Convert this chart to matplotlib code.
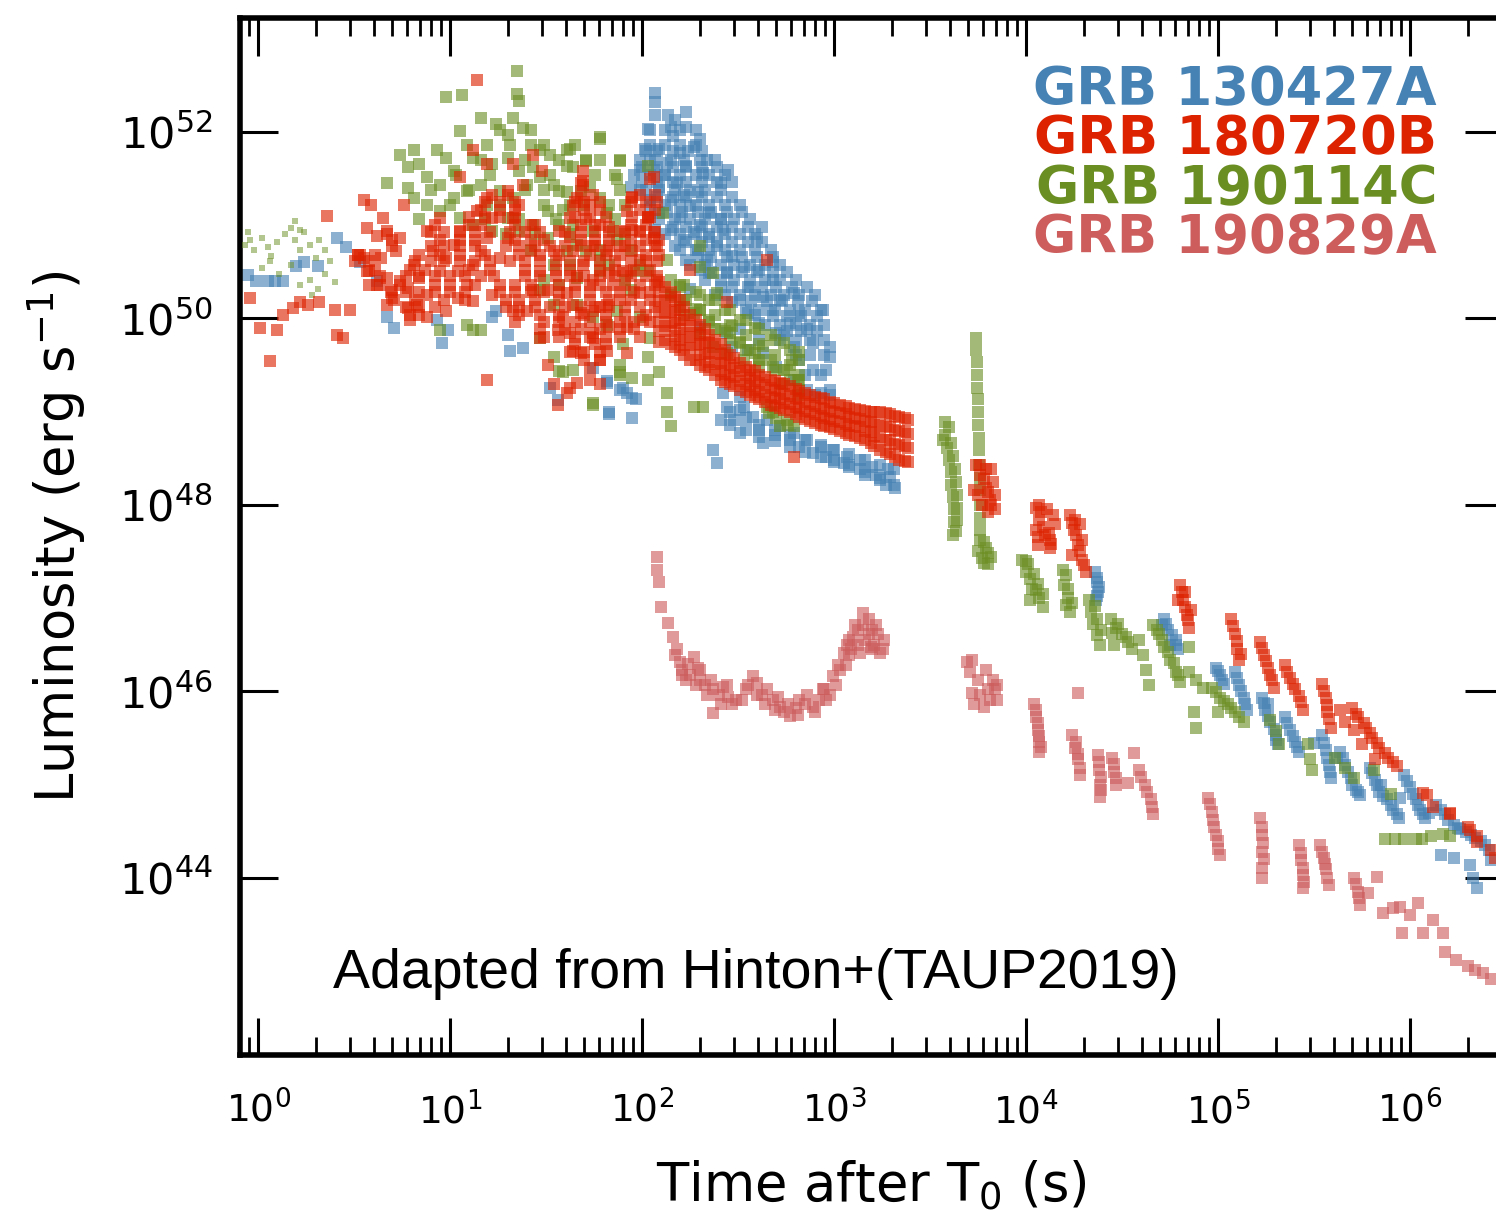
import numpy as np
import matplotlib
matplotlib.use("Agg")
import matplotlib.pyplot as plt
from matplotlib.ticker import LogLocator, NullLocator, NullFormatter, FixedLocator

# ---------------- data: (log10 t [s], log10 L [erg/s]) ----------------
blue_early = [(-0.05,50.46),(-0.01,50.40),(0.05,50.40),(0.09,50.40),(0.13,50.40),(0.20,50.56),
    (0.24,50.60),(0.31,50.56),(0.41,50.86),(0.46,50.76),(0.53,50.60),(0.62,50.40),(0.67,50.01),
    (0.71,49.90),(0.93,49.98),(0.96,49.74),(0.99,49.87),(1.22,50.01),(1.24,50.08),(1.30,49.82),
    (1.31,49.65),(1.38,49.68),(1.52,49.25),(1.56,49.12),(1.745,49.47),(1.82,49.33),(1.83,48.97),
    (1.95,48.93),(1.95,49.15),(1.90,49.25),(1.83,48.99),(1.82,49.31),(1.885,49.23),(1.92,49.20),
    (1.97,49.13)]
blue_cloud = [(2.07,52.42),(2.07,52.32),(2.23,52.21),(2.23,52.05),(2.03,52.03),(2.15,52.05),
    (2.16,51.95),(2.27,51.84),(2.09,51.81),(2.20,51.77),(2.34,51.70),(2.45,51.59),(2.41,51.45),
    (2.32,51.56),(2.23,51.63),(2.13,51.67),(2.06,51.59),(2.09,51.41),(2.18,51.45),(2.29,51.35),
    (1.99,51.38),(1.94,51.41),(2.15,51.27),(2.25,51.20),(2.35,51.13),(2.41,51.06),(2.20,51.09),
    (2.09,51.13),(2.15,50.95),(2.27,50.92),(2.35,50.87),(2.42,50.95),(2.17,50.77),(2.29,50.73),
    (2.39,50.77),(2.47,50.67),(2.60,50.86),(2.53,50.55),(2.61,50.52),(2.68,50.60),(2.68,50.41),
    (2.56,50.34),(2.63,50.23),(2.72,50.20),(2.79,50.27),(2.82,50.06),(2.94,50.09),(2.77,49.95),
    (2.86,49.88),(2.98,49.69),(2.89,49.74),(2.79,49.69),(2.70,49.84),(2.61,49.95),(2.55,50.06),
    (2.47,50.17),(2.41,50.34),(2.35,50.49),(2.44,50.49),(2.34,50.63),(2.23,50.63),(2.30,49.91),
    (2.98,49.59),(2.96,49.45),(2.89,49.45),(2.98,49.23),(2.93,49.20),(2.86,49.23),(2.79,49.34),
    (2.70,49.48),(2.63,49.63),(2.55,49.66),(2.47,49.69),(2.44,49.84),
    (2.016,51.81),(2.04,51.70),(2.12,51.54),(2.04,51.27),(2.22,51.32),(2.30,51.00),(2.07,50.95),
    (2.22,50.84),(2.30,50.52),(2.38,50.25),(2.25,50.31),(2.51,50.20),(2.59,50.04),(2.67,50.09),
    (2.74,49.82),(2.82,49.55),(2.51,49.88),(2.61,49.77),(2.17,52.13),(2.30,51.92),(1.99,51.59)]
# dense core of GRB 130427A: rows of log L with the log t values seen along each row
blue_core_L = [51.86,51.70,51.54,51.38,51.22,51.06,50.90,50.73,50.57,50.41,50.25,50.09,49.93,
    49.77,49.61,49.39,49.18]
blue_core_t = [[2.04,2.12,2.20,2.28],[1.99,2.07,2.15,2.22,2.30,2.38],
    [1.96,2.04,2.12,2.20,2.28,2.35,2.43],[2.02,2.09,2.17,2.25,2.33,2.41],
    [2.04,2.12,2.20,2.28,2.35,2.43,2.51],[2.09,2.17,2.25,2.33,2.41,2.48,2.56],
    [2.12,2.20,2.28,2.35,2.43,2.51,2.59],[2.20,2.28,2.35,2.43,2.51,2.59,2.67],
    [2.25,2.33,2.41,2.48,2.56,2.64,2.72],[2.33,2.41,2.48,2.56,2.64,2.72,2.80],
    [2.43,2.51,2.59,2.67,2.74,2.82,2.90],[2.54,2.61,2.69,2.77,2.85,2.93],
    [2.64,2.72,2.80,2.875,2.95],[2.72,2.80,2.875,2.95],[2.80,2.875,2.95],[2.85,2.93],[2.90,2.98]]
blue_core2_L = [52.18,52.02,51.79,51.62,51.46,51.30,51.14,50.98,50.82,50.66,50.50,50.34,50.18,
    50.02,49.86]
blue_core2_t = [[2.07,2.135],[2.04,2.12,2.20,2.28],[2.02,2.08,2.16,2.24,2.31],
    [2.00,2.08,2.16,2.23,2.31,2.39],[2.00,2.08,2.16,2.23,2.31,2.39,2.47],
    [2.08,2.16,2.23,2.31,2.39,2.47],[2.13,2.21,2.29,2.36,2.44,2.52],
    [2.16,2.23,2.31,2.39,2.47,2.55,2.625],[2.23,2.31,2.39,2.47,2.55,2.625],
    [2.29,2.36,2.44,2.52,2.60,2.68],[2.36,2.44,2.52,2.60,2.68,2.755],
    [2.47,2.55,2.625,2.70,2.78,2.86],[2.57,2.65,2.73,2.81,2.885],[2.68,2.755,2.83,2.91],
    [2.755,2.83,2.91]]
blue_band = [(2.53,49.05),(2.58,48.94),(2.65,48.91),(2.72,48.84),(2.79,48.77),(2.86,48.70),
    (2.93,48.62),(2.995,48.59),(3.07,48.51),(3.135,48.48),(3.20,48.41),(3.28,48.38),(3.29,48.30),
    (2.82,48.62),(2.89,48.56),(2.96,48.51),(3.05,48.45),(3.135,48.38),(3.22,48.32),(3.27,48.21),
    (2.37,48.59),(2.39,48.45),(2.51,48.77),(2.63,48.66),(2.41,48.91),(2.44,49.05),(2.42,49.20),
    (2.51,49.16),(2.51,49.02),(2.48,48.91),(2.61,48.80),(2.69,48.75),(2.77,48.70),(3.08,48.43),
    (3.16,48.32),(3.24,48.27),(3.32,48.18),(3.00,48.48)]
blue_band2_t = [2.46,2.54,2.61,2.69,2.77,2.85,2.93,3.00,3.08,3.16,3.24,3.31]
blue_band2_L = [[49.00,48.86],[48.93,48.80],[48.86,48.73],[48.80,48.68],[48.75,48.62],
    [48.70,48.57],[48.64,48.51],[48.59,48.46],[48.54,48.41],[48.48,48.35],[48.43,48.29],
    [48.38,48.21]]
blue_late = [(4.36,47.28),(4.37,47.17),(4.375,47.07),(4.365,46.98),(4.71,46.71),(4.74,46.66),
    (4.78,46.55),(4.79,46.45),(4.75,46.50),(4.72,46.77),(4.99,46.25),(5.01,46.18),(5.03,46.08),
    (5.09,46.21),(5.11,46.07),(5.135,45.93),(5.15,45.80),(5.23,45.93),(5.245,45.80),(5.27,45.67),
    (5.30,45.53),(5.31,45.43),(5.26,45.86),(5.35,45.72),(5.375,45.59),(5.40,45.46),(5.42,45.35),
    (5.54,45.53),(5.56,45.37),(5.58,45.21),(5.59,45.07),(5.635,45.35),(5.66,45.21),(5.69,45.07),
    (5.72,44.94),(5.74,44.89),(5.79,45.18),(5.82,45.05),(5.84,44.92),(5.88,44.84),(5.91,44.73),
    (5.94,44.64),(5.97,45.10),(6.00,44.97),(6.03,44.84),(6.05,44.73),(6.08,44.64),(6.135,44.78),
    (6.18,44.68),(6.23,44.57),(6.29,44.49),(6.34,44.43),(6.39,44.35),(6.16,44.24),(6.23,44.21),
    (6.31,44.14),(6.33,44.00),(6.35,43.89),(6.41,44.30),(6.42,44.19),(5.85,44.99),(5.95,44.86),
    (6.10,44.70),(6.26,44.52),(6.37,44.40),(5.62,45.28),(5.50,45.45),
    (4.37,47.22),(4.38,47.12),(4.37,47.02),(4.73,46.72),(4.76,46.60),(4.78,46.50),(5.00,46.22),
    (5.02,46.12),(5.10,46.14),(5.12,46.00),(5.14,45.86),(5.24,45.87),(5.26,45.74),(5.29,45.60),
    (5.30,45.48),(5.36,45.66),(5.39,45.52),(5.41,45.40),(5.55,45.45),(5.57,45.29),(5.585,45.14),
    (5.65,45.28),(5.675,45.14),(5.70,45.00),(5.73,44.92),(5.80,45.12),(5.83,44.99),(5.86,44.88),
    (5.90,44.78),(5.93,44.68),(5.985,45.04),(6.015,44.90),(6.04,44.78),(6.065,44.68),(6.16,44.73),
    (6.20,44.62),(6.25,44.53),(6.32,44.46)]

red_early = [(-0.04,50.22),(0.01,49.90),(0.06,49.54),(0.10,49.87),(0.13,50.03),(0.18,50.11),
    (0.22,50.17),(0.26,50.14),(0.32,50.17),(0.36,51.10),(0.40,50.09),(0.41,49.82),(0.44,49.79),
    (0.48,50.09),(0.52,50.68),(0.55,51.27),(0.55,50.65),(0.57,50.97),(0.58,50.51),(0.59,51.22),
    (0.62,50.88),(0.65,51.08),(0.67,50.90),(0.70,50.30),(0.79,49.98),(1.14,52.56),(1.19,49.34),
    (1.54,49.29),(1.56,49.07)]
red_cloud = [(0.52,50.68),(0.57,50.51),(0.62,50.36),(0.67,50.43),(0.70,50.22),(0.74,50.40),
    (0.78,50.33),(0.81,50.57),(0.84,50.43),(0.88,50.25),(0.83,50.14),(0.72,50.72),(0.67,50.94),
    (0.74,50.86),(0.76,51.22),(0.88,50.94),(0.91,50.72),(0.95,50.51),(0.98,50.65),(1.02,50.79),
    (1.05,50.94),(1.04,50.51),(1.09,50.36),(1.12,50.57),(1.16,50.72),(1.10,51.00),(1.14,51.15),
    (1.19,51.29),(1.22,51.08),(1.19,50.86),(1.26,50.65),(1.30,50.86),(1.33,51.08),(1.36,51.22),
    (1.30,51.37),(1.38,51.43),(1.42,51.00),(1.42,50.72),(1.47,50.51),(1.51,50.30),(1.43,50.30),
    (1.40,50.08),(1.54,50.72),(1.57,50.94),(1.625,51.08),(1.66,51.29),(1.69,51.43),(1.73,51.22),
    (1.78,51.00),(1.64,50.72),(1.69,50.57),(1.73,50.36),(1.64,50.14),(1.59,50.01),(1.745,50.08),
    (1.82,50.14),(1.85,50.36),(1.90,50.51),(1.95,50.72),(1.99,50.94),(2.03,51.08),(2.06,50.86),
    (1.82,50.72),(1.885,50.94),(1.92,51.15),(1.745,49.79),(1.82,49.65),(1.64,49.65),(1.56,49.87),
    (1.47,49.79),(1.51,49.50),(1.73,49.47),(1.78,49.29),(1.625,49.25),(1.22,50.25),(1.33,50.08),
    (0.98,50.08),(1.04,50.22),(1.12,50.19),(0.88,50.01),(0.78,50.11),(0.67,50.14),(0.58,50.36),
    (0.64,50.65),(0.95,51.08),(1.05,51.51),(1.19,51.65),(1.33,51.65),(1.12,51.80),(1.48,51.58),
    (1.69,51.58),(1.69,51.47),(2.06,51.51),(1.95,51.29),(1.43,51.75),
    (1.68,51.45),(1.64,51.20),(1.71,51.06),(1.625,50.87),(1.745,50.77),(1.83,50.98),(1.885,50.77),
    (1.95,50.95),(2.03,51.09),(2.06,50.92),(2.08,50.77),(1.99,50.63),(1.92,50.49),(1.83,50.49),
    (1.745,50.41),(1.66,50.45),(1.61,50.27),(1.68,50.06),(1.78,50.12),(1.885,50.20),(1.99,50.27),
    (2.08,50.41),(2.005,49.98),(1.92,49.91),(1.83,49.91),(1.745,49.84),(1.625,49.84),(1.68,49.63),
    (1.78,49.55),(1.92,49.63),(1.61,49.20),(1.66,49.31),(1.73,49.34),(2.04,51.49),(1.95,51.30),
    (2.04,51.09),(2.25,50.52),(2.44,50.17),(2.65,50.63),(2.79,48.51)]
# dense core of GRB 180720B: rows of log L with the log t values seen along each row
red_core_L = [51.32,51.16,51.00,50.84,50.68,50.52,50.36,50.20,50.04,49.88,49.72,49.55]
red_core_t = [[1.22,1.30,1.68,1.745,1.99,2.07],[1.16,1.26,1.34,1.70,1.78,1.99,2.07],
    [0.92,1.16,1.34,1.44,1.68,1.755,1.94,2.02],
    [0.70,0.95,1.05,1.13,1.34,1.42,1.49,1.68,1.755,1.83,1.94,2.02,2.09],
    [0.53,0.61,0.84,0.95,1.05,1.18,1.36,1.47,1.57,1.73,1.81,1.885,2.02,2.09],
    [0.61,0.79,0.87,1.10,1.21,1.39,1.55,1.625,1.78,1.86,1.96,2.04],
    [0.635,0.74,0.92,1.00,1.13,1.26,1.34,1.42,1.57,1.65,1.78,1.91,1.99,2.07],
    [0.71,0.82,0.97,1.08,1.29,1.36,1.44,1.57,1.73,1.83,1.94,2.04],
    [0.79,0.84,1.36,1.47,1.57,1.70,1.81,1.91,2.02],[1.47,1.60,1.68,1.78,1.885,1.96],
    [1.65,1.755,1.81],[1.70,1.78]]
red_core2_L = [51.25,51.09,50.93,50.77,50.61,50.45,50.28,50.12,49.96,49.80,49.64]
red_core2_t = [[1.18,1.26,1.34,1.65,1.70,1.78,1.94,2.02,2.08],
    [1.10,1.18,1.26,1.34,1.65,1.73,1.81,1.95,2.03],
    [0.90,0.97,1.05,1.13,1.21,1.31,1.39,1.47,1.60,1.68,1.755,1.83,1.91,1.99,2.07],
    [0.70,0.90,0.97,1.05,1.13,1.29,1.36,1.44,1.52,1.60,1.68,1.755,1.83,1.91,1.99,2.07],
    [0.505,0.58,0.82,0.90,0.97,1.05,1.13,1.21,1.31,1.39,1.47,1.55,1.625,1.70,1.78,1.86,1.94,
     2.02,2.08],
    [0.635,0.77,0.84,0.92,1.00,1.08,1.16,1.23,1.39,1.47,1.55,1.625,1.70,1.78,1.86,1.94,2.02,2.08],
    [0.69,0.77,0.84,0.92,1.00,1.08,1.26,1.34,1.42,1.49,1.57,1.65,1.73,1.81,1.885,1.96,2.04],
    [0.77,0.84,0.92,1.29,1.36,1.44,1.52,1.60,1.68,1.755,1.83,1.91,1.99,2.07],
    [1.34,1.49,1.57,1.65,1.73,1.81,1.885,1.96,2.04],[1.49,1.57,1.65,1.73,1.81,1.885,1.99],
    [1.625,1.70,1.78]]
red_band_t = [2.09,2.15,2.20,2.25,2.30,2.35,2.41,2.46,2.51,2.56,2.61,2.67,2.72,2.77,2.82,2.875,
    2.93,2.98,3.03,3.08,3.135,3.19,3.24,3.29,3.34,3.385]
red_band_L = [[50.39,50.28,50.18,50.07,49.96,49.86,49.75],[50.28,50.18,50.07,49.96,49.86,49.72],
    [50.20,50.09,49.98,49.88,49.77,49.66],[50.04,49.92,49.80,49.68,49.55],
    [49.93,49.82,49.72,49.61,49.50],[49.82,49.73,49.63,49.53,49.45],[49.72,49.62,49.52,49.43,49.34],
    [49.61,49.50,49.39,49.29],[49.52,49.43,49.33,49.23],[49.45,49.36,49.27,49.18],
    [49.39,49.31,49.21,49.13],[49.34,49.25,49.16,49.07],[49.31,49.22,49.13,49.04],
    [49.27,49.17,49.08,48.99],[49.22,49.13,49.04,48.94],[49.18,49.08,49.00,48.90],
    [49.14,49.04,48.95,48.86],[49.10,49.01,48.92,48.83],[49.07,48.98,48.89,48.79],
    [49.04,48.94,48.85,48.75],[49.02,48.92,48.83,48.72],[49.00,48.89,48.78,48.66],
    [48.99,48.86,48.73,48.59],[48.97,48.83,48.69,48.54],[48.94,48.79,48.64,48.48],
    [48.91,48.76,48.61,48.46]]
red_band2_t = [2.12,2.17,2.22,2.28,2.33,2.38,2.43,2.48,2.54,2.59,2.64,2.69,2.74,2.80,2.85,2.90,
    2.95,3.00,3.06,3.11,3.16,3.21,3.27,3.32,3.37]
red_band2_L = [[50.34,50.20,50.06,49.92,49.77],[50.23,50.09,49.95,49.81,49.69],
    [50.12,49.98,49.84,49.71,49.61],[49.98,49.84,49.71,49.55],[49.88,49.75,49.62,49.48],
    [49.77,49.64,49.51,49.39],[49.66,49.53,49.40,49.32],[49.57,49.47,49.37,49.27],
    [49.48,49.39,49.30,49.21],[49.43,49.33,49.23,49.16],[49.37,49.28,49.18,49.10],
    [49.33,49.23,49.14,49.06],[49.29,49.19,49.09,49.02],[49.24,49.15,49.05,48.97],
    [49.20,49.10,49.01,48.92],[49.16,49.06,48.97,48.88],[49.13,49.03,48.93,48.85],
    [49.09,49.00,48.90,48.81],[49.06,48.97,48.87,48.77],[49.03,48.93,48.84,48.74],
    [49.01,48.90,48.79,48.70],[49.00,48.87,48.74,48.63],[48.98,48.84,48.70,48.57],
    [48.95,48.80,48.65,48.51],[48.93,48.78,48.63,48.47]]
red_late = [(3.74,48.43),(3.76,48.32),(3.79,48.18),(3.81,48.05),(3.84,47.95),(3.77,48.00),
    (3.75,48.11),(3.82,48.38),(4.05,47.97),(4.07,47.84),(4.10,47.68),(4.125,47.54),(4.15,47.79),
    (4.11,47.95),(4.06,47.57),(4.23,47.89),(4.25,47.73),(4.27,47.57),(4.29,47.41),(4.31,47.28),
    (4.28,47.79),(4.80,47.14),(4.82,46.98),(4.84,46.82),(4.85,46.68),(4.83,47.07),(5.07,46.77),
    (5.09,46.61),(5.10,46.45),(5.11,46.34),(5.22,46.53),(5.24,46.39),(5.26,46.25),(5.28,46.12),
    (5.29,46.04),(5.35,46.28),(5.375,46.14),(5.40,46.02),(5.43,45.89),(5.44,45.80),(5.54,46.08),
    (5.56,45.93),(5.57,45.78),(5.59,45.61),(5.635,45.80),(5.66,45.67),(5.70,45.82),(5.73,45.72),
    (5.77,45.61),(5.80,45.50),(5.84,45.39),(5.885,45.29),(5.93,45.20),(5.75,45.43),(5.82,45.27),
    (5.71,45.59),(6.07,44.91),(6.09,44.89),(6.12,44.76),(6.21,44.70),(6.21,44.68),(6.30,44.55),
    (6.31,44.51),(6.35,44.45),(6.35,44.38),(6.42,44.30),(6.44,44.21),
    (3.79,48.38),(3.73,48.16),(3.84,48.11),(3.80,47.92),(4.07,48.00),(4.14,47.89),(4.05,47.73),
    (4.125,47.62),(4.255,47.84),(4.29,47.62),(4.24,47.46),(4.79,46.98),(4.86,46.87),
    (3.76,48.43),(3.78,48.28),(3.80,48.14),(3.82,48.00),(3.83,48.24),(4.08,47.92),(4.09,47.76),
    (4.12,47.70),(4.13,47.58),(4.06,47.65),(4.26,47.68),(4.28,47.50),(4.30,47.35),(4.24,47.80),
    (4.81,47.06),(4.83,46.90),(4.845,46.76),(5.08,46.70),(5.10,46.54),(5.12,46.40),(5.23,46.46),
    (5.25,46.32),(5.27,46.18),(5.36,46.21),(5.39,46.08),(5.42,45.95),(5.55,46.00),(5.565,45.85),
    (5.58,45.70),(5.72,45.76),(5.76,45.66),(5.79,45.55),(5.83,45.45),(5.87,45.34),(5.91,45.24)]

green_early = [(-0.07,50.79),(-0.04,50.84),(-0.02,50.73),(0.02,50.86),(0.05,50.76),(0.07,50.67),
    (0.10,50.82),(0.14,50.90),(0.17,50.97),(0.19,50.84),(0.22,50.73),(0.24,50.92),(0.27,50.79),
    (0.30,50.65),(0.32,50.84),(0.35,50.73),(0.375,50.61),(0.02,50.54),(0.06,50.61),(0.11,50.47),
    (0.17,50.57),(0.22,50.36),(0.27,50.41),(0.31,50.31),(0.35,50.47),(0.40,50.39),(0.28,50.25),
    (-0.05,50.93),(0.22,50.95),(0.19,51.04)]
green_cloud = [(0.67,51.45),(0.74,51.75),(0.81,51.80),(0.78,51.62),(0.84,51.65),(0.78,51.40),
    (0.88,51.51),(0.93,51.80),(0.98,51.72),(0.95,51.43),(1.02,51.58),(0.98,52.37),(1.06,52.39),
    (1.05,52.01),(1.09,51.86),(1.16,52.15),(1.24,52.08),(1.12,51.72),(1.19,51.86),(1.30,51.97),
    (1.35,52.65),(1.35,52.40),(1.36,52.33),(1.33,52.15),(1.38,52.04),(1.42,51.86),(1.47,51.80),
    (1.52,51.75),(1.43,51.62),(1.36,51.58),(1.30,51.72),(1.22,51.65),(1.16,51.43),(1.09,51.37),
    (1.02,51.29),(0.88,51.22),(0.81,51.29),(0.95,51.15),(1.05,51.08),(1.12,51.00),(1.19,51.22),
    (1.26,51.37),(1.33,51.29),(1.40,51.43),(1.47,51.51),(1.54,51.43),(1.61,51.80),(1.64,51.62),
    (1.71,51.69),(1.78,51.94),(1.885,51.69),(1.57,51.37),(1.625,51.22),(1.68,51.37),(1.51,51.15),
    (1.43,51.00),(1.36,50.94),(1.30,51.08),(1.22,50.94),(1.51,50.86),(1.57,51.00),(1.64,51.00),
    (1.61,50.72),(1.54,50.57),(1.66,50.79),(1.78,51.29),(1.83,51.22),(1.85,50.94),(1.745,50.94),
    (1.71,50.72),(1.78,50.51),(1.66,50.43),(1.57,50.36),(1.47,50.30),(1.54,50.14),(1.66,50.14),
    (1.745,50.01),(1.82,49.93),(1.87,50.08),(1.94,50.30),(1.97,50.51),(2.03,50.51),(1.99,50.01),
    (2.04,49.79),(2.03,49.58),(1.90,49.72),(1.885,49.50),(1.95,49.36),(1.09,49.93),(1.12,49.87),
    (1.16,49.87),(0.95,49.87),(1.745,49.07),(1.885,49.39),(1.57,49.44),(1.54,49.58),(1.47,49.79),
    (1.78,51.92),(1.625,51.81),(1.61,51.63),(1.71,51.70),(1.73,51.41),(1.885,51.70),(1.87,51.49),
    (2.03,51.63),(1.61,51.35),(1.59,51.16),(1.82,51.13),(1.87,50.84),(1.78,50.63),(2.11,51.13),
    (2.13,50.63),(2.30,50.77),(2.37,50.49),(2.39,50.27),(2.30,50.55),(2.20,50.34),(2.23,50.20),
    (2.30,50.09),(2.35,49.98),(2.41,49.88),(2.46,49.84),(2.51,49.74),(2.56,49.66),(2.61,49.55),
    (2.68,49.48),(2.755,49.45),(2.30,49.84),(2.37,49.69),(2.44,49.63),(2.53,49.55),(2.61,49.48),
    (2.27,50.06),(2.20,50.12),(2.15,50.27),(2.68,48.99),(2.755,48.91),(2.79,48.84),(2.72,48.84),
    (2.65,49.05),(2.09,49.42),(2.03,49.34),(2.13,49.20),(2.27,49.05),(2.32,49.05),(2.13,48.99),
    (2.15,48.84),(1.745,49.09),(1.885,49.42),(1.64,49.45),(1.59,49.42),(2.81,49.34),(2.81,49.18),
    (2.73,49.29)]
# denser parts of GRB 190114C prompt phase: rows of log L with log t values along them
green_core_L = [52.02,51.86,51.70,51.54,51.38,51.22,51.06,50.90,50.73,50.57,50.41]
green_core_t = [[1.26,1.42],[1.31,1.49,1.65],[1.16,1.39,1.57,1.78],[1.03,1.21,1.52,1.755,1.86],
    [0.90,1.10,1.39,1.49,1.885],[1.00,1.26,1.49,1.70,1.91],[0.84,1.18,1.36,1.55,1.86],
    [1.29,1.44,1.625,1.91],[1.42,1.78,1.94],[1.625,1.83,1.99],[1.49,1.91]]
# band of GRB 190114C just above the GRB 180720B decay
green_band_t = [2.15,2.22,2.30,2.38,2.46,2.54,2.61,2.69,2.77,2.82]
green_band_L = [[50.41,50.25],[50.36,50.20,50.04],[50.25,50.09],[50.20,50.04,49.88],
    [50.09,49.93,49.77],[49.98,49.82,49.66],[49.88,49.72,49.55],[49.77,49.61,49.45],
    [49.66,49.50,49.34],[49.55,49.39,49.23]]
green_band2 = [(2.20,50.36),(2.28,50.28),(2.28,50.10),(2.35,50.20),(2.35,49.96),(2.43,50.09),
    (2.43,49.86),(2.51,49.98),(2.51,49.75),(2.59,49.90),(2.59,49.63),(2.67,49.82),(2.67,49.55),
    (2.74,49.74),(2.74,49.45),(2.82,49.64),(2.82,49.34),(2.47,49.92),(2.63,49.70),(2.78,49.55),
    (2.70,48.93),(2.76,48.86),(2.66,48.98)]
green_late = [(3.58,48.89),(3.58,48.75),(3.59,48.61),(3.60,48.48),(3.61,48.35),(3.61,48.21),
    (3.62,48.08),(3.625,47.95),(3.625,47.82),(3.62,47.68),(3.57,48.70),
    (3.74,49.79),(3.74,49.66),(3.745,49.53),(3.745,49.39),(3.745,49.25),(3.75,49.13),(3.75,48.99),
    (3.75,48.86),(3.755,48.72),(3.755,48.59),(3.755,48.43),(3.76,48.29),(3.76,48.16),(3.76,48.00),
    (3.76,47.86),(3.76,47.73),(3.76,47.62),(3.79,47.54),(3.77,47.43),(3.80,47.36),(3.75,47.50),
    (3.98,47.41),(4.00,47.28),(4.02,47.20),(4.05,47.09),(4.07,47.00),(4.09,46.90),(4.02,46.98),
    (4.01,47.36),(4.19,47.30),(4.20,47.14),(4.22,47.00),(4.23,46.85),(4.21,46.93),(4.33,46.98),
    (4.34,46.85),(4.35,46.72),(4.37,46.60),(4.385,46.50),(4.44,46.77),(4.47,46.68),(4.50,46.61),
    (4.53,46.53),(4.55,46.45),(4.46,46.50),(4.59,46.55),(4.61,46.39),(4.625,46.23),(4.64,46.07),
    (4.66,46.71),(4.69,46.61),(4.72,46.47),(4.75,46.34),(4.78,46.21),(4.80,46.10),(4.85,46.21),
    (4.885,46.12),(4.92,46.04),(4.875,45.78),(4.885,45.61),(4.85,46.47),(4.97,46.04),(5.01,45.93),
    (5.05,45.86),(5.09,45.78),(5.135,45.67),(5.00,45.78),(5.27,45.69),(5.30,45.57),(5.32,45.43),
    (5.47,45.43),(5.48,45.27),(5.49,45.16),(5.61,45.29),(5.66,45.18),(5.71,45.07),(5.81,45.16),
    (5.90,44.90),(5.87,44.42),(5.92,44.42),(5.97,44.42),(6.03,44.42),(6.06,44.42),(6.11,44.45),
    (6.17,44.47),(6.21,44.45),
    (3.60,48.83),(3.61,48.66),(3.62,48.52),(3.63,48.38),(3.635,48.24),(3.64,48.10),(3.64,47.97),
    (3.64,47.84),(3.635,47.72),(3.78,47.60),(3.80,47.48),(3.78,47.38),(3.82,47.44),(4.00,47.40),
    (4.04,47.26),(4.06,47.15),(4.09,47.04),(4.03,47.10),(4.21,47.25),(4.22,47.10),(4.24,46.95),
    (4.36,46.92),(4.37,46.78),(4.39,46.66),(4.48,46.72),(4.52,46.58),(4.45,46.62),(4.68,46.66),
    (4.71,46.55),(4.74,46.42),(4.77,46.30),(4.79,46.17),(4.99,45.99),(5.03,45.90),(5.07,45.82),
    (5.11,45.72)]

pink_dip = [(2.08,47.44),(2.08,47.30),(2.09,47.17),(2.10,46.90),(2.135,46.73),(2.16,46.58),
    (2.18,46.45),(2.20,46.31),(2.21,46.23),(2.23,46.12),(2.25,46.18),(2.27,46.37),(2.29,46.25),
    (2.30,46.12),(2.33,46.07),(2.37,46.02),(2.37,45.77),(2.40,45.96),(2.42,46.05),(2.45,45.94),
    (2.49,45.91),(2.54,46.02),(2.58,46.16),(2.60,46.09),(2.625,45.96),(2.65,46.02),(2.68,45.91),
    (2.72,45.83),(2.74,45.78),(2.77,45.73),(2.80,45.82),(2.82,45.91),(2.85,45.86),(2.89,45.83),
    (2.92,45.91),(2.94,46.02),(2.96,45.91),(2.995,46.16),(3.02,46.28),(3.03,46.23),(3.05,46.41),
    (3.07,46.50),(3.08,46.39),(3.10,46.58),(3.11,46.71),(3.125,46.50),(3.135,46.41),(3.15,46.84),
    (3.18,46.77),(3.19,46.48),(3.20,46.66),(3.21,46.50),(3.23,46.61),(3.24,46.41),(3.26,46.55),
    (2.17,46.39),(2.21,46.18),(2.24,46.29),(2.28,46.07),(2.30,46.23),(2.34,45.96),(2.36,46.12),
    (2.41,45.86),(2.44,46.07),(2.47,45.86),(2.52,45.91),(2.55,46.07),(2.60,45.96),(2.64,45.86),
    (2.69,45.80),(2.71,45.94),(2.76,45.86),(2.81,45.75),(2.86,45.96),(2.90,45.78),(2.95,46.02),
    (2.98,45.96),(3.01,46.07),(3.06,46.28),(3.09,46.45),(3.125,46.66),(3.16,46.55),(3.18,46.61),
    (3.20,46.45),(3.22,46.71),(3.255,46.45),(3.15,46.71),(3.08,46.55)]
pink_late = [(3.69,46.31),(3.71,46.21),(3.72,45.98),(3.75,46.12),(3.76,45.96),(3.78,45.83),
    (3.80,46.02),(3.83,46.12),(3.84,46.02),(3.85,45.91),(3.72,46.34),(3.79,46.23),(3.81,45.91),
    (3.73,45.86),(3.85,46.07),(4.04,45.86),(4.05,45.72),(4.06,45.59),
    (4.07,45.46),(4.07,45.35),(4.27,45.98),(4.24,45.53),(4.255,45.39),(4.27,45.27),(4.28,45.10),
    (4.375,45.32),(4.38,45.16),(4.385,45.00),(4.385,44.87),(4.45,45.29),(4.46,45.14),(4.47,45.00),
    (4.53,45.02),(4.56,45.34),(4.59,45.16),(4.62,45.00),(4.65,44.84),(4.66,44.68),(4.95,44.86),
    (4.97,44.71),(4.98,44.54),(5.00,44.39),(5.01,44.24),(5.22,44.64),(5.23,44.46),(5.23,44.28),
    (5.23,44.11),(5.23,44.00),(5.42,44.35),(5.43,44.19),(5.44,44.03),(5.44,43.89),(5.53,44.35),
    (5.55,44.21),(5.56,44.09),(5.58,43.92),(5.71,44.00),(5.73,43.85),(5.74,43.71),(5.78,43.84),
    (5.83,44.01),(5.86,43.62),(5.91,43.68),(5.95,43.69),(5.96,43.41),(6.00,43.60),(6.04,43.73),
    (6.07,43.41),(6.12,43.55),(6.17,43.41),(6.18,43.20),(6.24,43.12),(6.30,43.05),(6.34,43.01),
    (6.38,42.98),(6.42,42.91),
    (4.05,45.80),(4.06,45.66),(4.07,45.52),(4.08,45.40),(4.26,45.46),(4.27,45.33),(4.28,45.18),
    (4.38,45.24),(4.39,45.08),(4.39,44.94),(4.46,45.22),(4.47,45.07),(4.60,45.08),(4.63,44.92),
    (4.655,44.76),(4.96,44.79),(4.975,44.62),(4.99,44.46),(5.00,44.31),(5.23,44.55),(5.235,44.37),
    (5.24,44.20),(5.43,44.27),(5.44,44.11),(5.45,43.96),(5.54,44.28),(5.555,44.15),(5.57,44.00),
    (5.72,43.93),(5.735,43.78)]

names = ["GRB 130427A", "GRB 180720B", "GRB 190114C", "GRB 190829A"]
colors = ["#4682B4", "#DD2200", "#6B8E23", "#CD5C5C"]

x_ticks_exp = [0, 1, 2, 3, 4, 5, 6]
y_ticks_exp = [44, 46, 48, 50, 52]


def rows(Ls, ts):
    return [(t, L) for L, tl in zip(Ls, ts) for t in tl]


def cols(ts, Ls):
    return [(t, L) for t, ll in zip(ts, Ls) for L in ll]


def to_xy(*segs):
    a = np.array([p for s in segs for p in s], dtype=float)
    return 10.0 ** a[:, 0], 10.0 ** a[:, 1]


# ---------------- figure ----------------
W, H = 1496, 1217
fig = plt.figure(figsize=(W / 100, H / 100), dpi=100)
ax = fig.add_axes([240 / W, (H - 1055) / H, (1502 - 240) / W, (1055 - 18) / H])
ax.set_xscale("log")
ax.set_yscale("log")

mk = dict(marker="s", s=76, linewidths=0, alpha=0.62)

bx, by = to_xy(blue_early, blue_cloud, rows(blue_core_L, blue_core_t),
               rows(blue_core2_L, blue_core2_t), blue_band, cols(blue_band2_t, blue_band2_L),
               blue_late)
ax.scatter(bx, by, color=colors[0], zorder=2, **mk)

gx, gy = to_xy(green_early)
ax.scatter(gx, gy, color=colors[2], marker="s", s=18, linewidths=0, alpha=0.5, zorder=3)
gx, gy = to_xy(green_cloud, rows(green_core_L, green_core_t), cols(green_band_t, green_band_L),
               green_band2, green_late)
ax.scatter(gx, gy, color=colors[2], zorder=3, **mk)

rx, ry = to_xy(red_early, red_cloud, rows(red_core_L, red_core_t),
               rows(red_core2_L, red_core2_t), cols(red_band_t, red_band_L),
               cols(red_band2_t, red_band2_L), red_late)
ax.scatter(rx, ry, color=colors[1], zorder=4, **mk)

px, py = to_xy(pink_dip, pink_late)
ax.scatter(px, py, color=colors[3], zorder=5, **mk)

ax.set_xlim(10 ** -0.094, 10 ** 6.479)
ax.set_ylim(10 ** 42.10, 10 ** 53.22)

ax.xaxis.set_major_locator(FixedLocator([10.0 ** e for e in x_ticks_exp]))
ax.xaxis.set_minor_locator(LogLocator(base=10, subs=np.arange(2, 10), numticks=30))
ax.xaxis.set_minor_formatter(NullFormatter())
ax.yaxis.set_major_locator(FixedLocator([10.0 ** e for e in y_ticks_exp]))
ax.yaxis.set_minor_locator(NullLocator())

for sp in ax.spines.values():
    sp.set_linewidth(4)
ax.tick_params(which="major", direction="in", length=27, width=2.2, top=True, right=True,
               labelsize=27, pad=26)
ax.tick_params(which="minor", direction="in", length=13, width=2.0, top=True, right=True)
ax.tick_params(axis="y", labelsize=31, pad=20)

ax.set_xlabel(r"Time after T$_0$ (s)", fontsize=38, labelpad=20)
ax.set_ylabel(r"Luminosity (erg s$^{\mathregular{-1}}$)", fontsize=38, labelpad=22)

for i, (nm, c) in enumerate(zip(names, colors)):
    yb = [105, 154, 204, 253][i]
    fig.text(1437 / W, 1 - yb / H, nm, color=c, fontsize=38, fontweight="bold",
             ha="right", va="baseline", family="DejaVu Sans")

fig.text(333 / W, 1 - 988 / H, "Adapted from Hinton+(TAUP2019)", fontsize=40,
         family="Liberation Sans", ha="left", va="baseline", color="black")

fig.savefig("out.png", dpi=100)
